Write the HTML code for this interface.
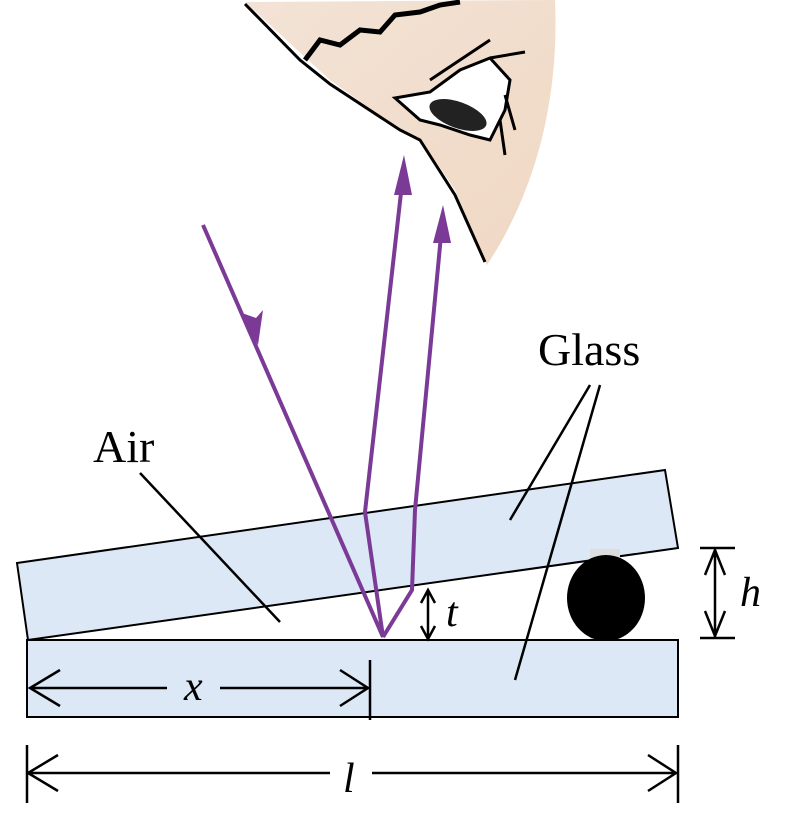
<!DOCTYPE html>
<html><head><style>body{margin:0;background:#fff}svg{display:block}</style></head><body>
<svg width="791" height="840" viewBox="0 0 791 840" xmlns="http://www.w3.org/2000/svg">
<defs><linearGradient id="sk" x1="0" y1="0" x2="1" y2="1"><stop offset="0" stop-color="#f3e3d6"/><stop offset="1" stop-color="#f0d8c4"/></linearGradient></defs>
<path d="M245,2 L330,80 L400,130 L420,138 L455,190 L487,265 C530,200 560,110 555,0 Z" fill="url(#sk)"/>
<path d="M245,4 L300,60 L330,84 L400,130 L420,140 L455,195 L485,262" fill="none" stroke="#000" stroke-width="3"/>
<path d="M305,60 L320,40 L340,45 L360,30 L380,32 L395,15 L420,12 L440,5 L460,2" fill="none" stroke="#000" stroke-width="5"/>
<path d="M395,98 L430,92 L460,70 L490,58 L510,80 L505,110 L490,140 L470,135 L440,125 L420,120 Z" fill="#fff" stroke="#000" stroke-width="3"/>
<ellipse cx="458" cy="115" rx="30" ry="13" fill="#222" transform="rotate(20 458 115)"/>
<path d="M430,80 L490,40 M490,58 L525,52 M500,120 L505,155 M505,95 L515,130" stroke="#000" stroke-width="3"/>
<g stroke="#000" stroke-width="2">
<rect x="27" y="640" width="651" height="77" fill="#dce8f5"/>
<polygon points="17,563 665,470 678,548 28,640" fill="#dce8f5"/>
</g>
<rect x="590" y="549" width="30" height="90" fill="#ddd"/>
<ellipse cx="606" cy="598" rx="39" ry="43" fill="#000"/>
<g stroke="#7b3a96" stroke-width="4" fill="none">
<path d="M203,225 L383,637 L365,512 L403,175"/>
<path d="M383,637 L412,590 L415,510 L442,225"/>
</g>
<g fill="#7b3a96">
<polygon points="404,155 394,195 412,195"/>
<polygon points="443,205 433,243 451,243"/>
<polygon points="258,345 239,312 256,318 263,310"/>
</g>
<g stroke="#000" stroke-width="2.5" fill="none">
<path d="M140,473 L280,622 M590,385 L510,520 M600,385 L515,680"/>
<path d="M428,592 L428,637 M421,603 L428,590 L435,603 M421,626 L428,639 L435,626"/>
<path d="M700,548 L735,548 M700,638 L735,638 M715,550 L715,636 M705,575 L715,550 L725,575 M705,611 L715,636 L725,611"/>
<path d="M30,688 L167,688 M220,688 L368,688 M370,660 L370,720 M60,670 L30,688 L60,706 M340,670 L368,688 L340,706"/>
<path d="M27,745 L27,803 M678,745 L678,803 M28,773 L330,773 M372,773 L676,773 M58,755 L28,773 L58,791 M648,755 L676,773 L648,791"/>
</g>
<g font-family="Liberation Serif, serif" font-size="46" fill="#000">
<text x="538" y="365">Glass</text>
<text x="93" y="462">Air</text>
<text x="446" y="626" font-style="italic" font-size="42">t</text>
<text x="740" y="606" font-style="italic" font-size="42">h</text>
<text x="184" y="700" font-style="italic" font-size="42">x</text>
<text x="343" y="792" font-style="italic" font-size="42">l</text>
</g>
</svg>
</body></html>
